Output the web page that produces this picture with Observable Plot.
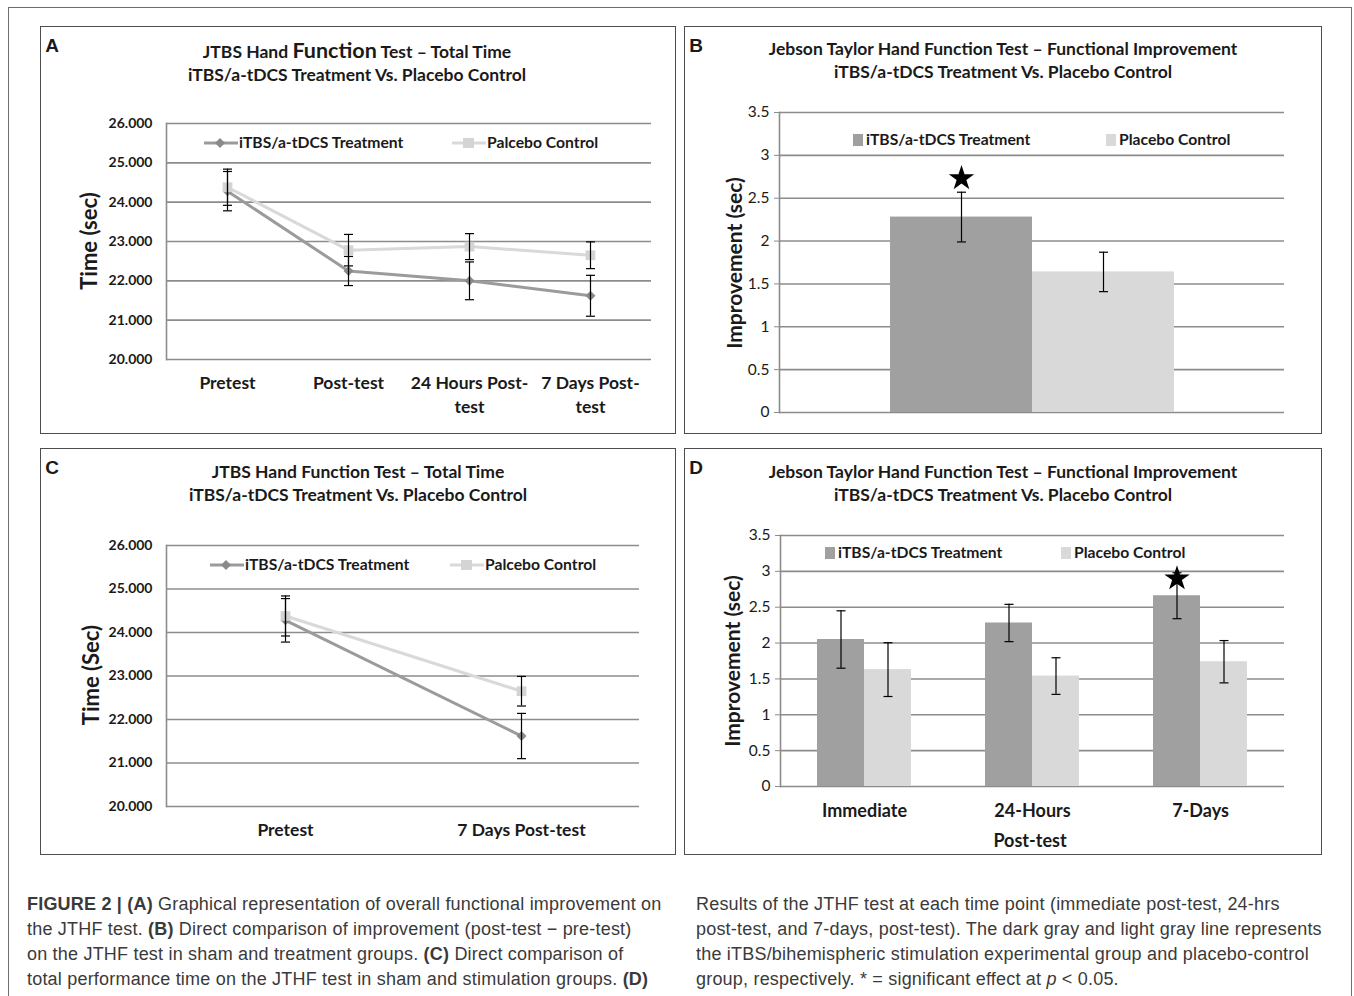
<!DOCTYPE html>
<html><head><meta charset="utf-8">
<script src="https://cdn.jsdelivr.net/npm/d3@7"></script>
<script src="https://cdn.jsdelivr.net/npm/@observablehq/plot@0.6"></script>
<style>
html,body{margin:0;padding:0;background:#fff}
body{width:1354px;height:996px;position:relative;overflow:hidden;font-family:Lato,"Open Sans",sans-serif;color:#1a1a1a}
.outer{position:absolute;left:8px;top:7px;width:1344px;height:1010px;border:1px solid #6e6e6e;box-sizing:border-box}
.panel{position:absolute}
.panel .border{position:absolute;left:0;top:0;right:0;bottom:0;border:1.5px solid #4d4d4d;pointer-events:none}
.panel svg.plot{position:absolute;left:0;top:0}
.t{position:absolute;white-space:nowrap;line-height:1}
.cap{position:absolute;font-family:"Liberation Sans",Arial,sans-serif;font-size:18px;letter-spacing:0.2px;line-height:25px;color:#3a3a3a;white-space:nowrap}
</style>
</head><body>
<div class="outer"></div>
<script>
// ---------------- data ----------------
const stages = ["Pretest", "Post-test", "24 Hours Post-test", "7 Days Post-test"];
const stageLabels = ["Pretest", "Post-test", "24 Hours Post-\ntest", "7 Days Post-\ntest"];
const treatTime = [24.28, 22.25, 22.00, 21.62];
const treatTimeErr = [0.50, 0.37, 0.48, 0.52];
const placeboTime = [24.38, 22.78, 22.87, 22.65];
const placeboTimeErr = [0.46, 0.40, 0.33, 0.34];
const timeTicks = [20, 21, 22, 23, 24, 25, 26];

const stagesC = ["Pretest", "7 Days Post-test"];

const groups = ["iTBS/a-tDCS Treatment", "Placebo Control"];
const overallImp = [2.28, 1.64];
const overallImpErr = [0.29, 0.23];
const starOverall = 2.73;

const timepoints = ["Immediate", "24-Hours", "7-Days"];
const treatImp = [2.05, 2.28, 2.66];
const treatImpErr = [0.40, 0.26, 0.32];
const placeboImp = [1.63, 1.54, 1.74];
const placeboImpErr = [0.375, 0.255, 0.295];
const starTimepoint = "7-Days";
const starTimepointValue = 2.90;
const impTicks = [0, 0.5, 1, 1.5, 2, 2.5, 3, 3.5];

// ---------------- styles ----------------
const DARK = "#a0a0a0", LIGHT = "#d9d9d9";
const LINE_DARK = "#9b9b9b", MARK_DARK = "#8a8a8a", MARK_LIGHT = "#d4d4d4";
const GRID = "#8c8c8c";
const FONT = "Lato, 'Open Sans', sans-serif";
const TITLE = 17.5, LEG = 15.7;

const cap = {draw(ctx, size) { const w = Math.sqrt(size / Math.PI); ctx.moveTo(-w, 0); ctx.lineTo(w, 0); }};

// ---------------- helpers ----------------
function panel(left, top, w, h) {
  const d = document.createElement("div");
  d.className = "panel";
  d.style.cssText = `left:${left}px;top:${top}px;width:${w}px;height:${h}px`;
  document.body.append(d);
  return d;
}
function finish(p) { const b = document.createElement("div"); b.className = "border"; p.append(b); }
function text(parent, html, x, y, o = {}) {
  const d = document.createElement("div");
  d.className = "t";
  d.innerHTML = html;
  const size = o.size || 16, weight = o.weight ?? 700, anchor = o.anchor || "middle";
  const tx = anchor === "start" ? "0" : anchor === "end" ? "-100%" : "-50%";
  d.style.cssText = `left:${x}px;top:${y}px;font-size:${size}px;font-weight:${weight};` +
    (o.family ? `font-family:${o.family};` : "") +
    `transform:translate(${tx},-50%)${o.rotate ? ` rotate(${o.rotate}deg)` : ""};`;
  parent.append(d);
  return d;
}
function lineLegend(parent, x, y, color, markColor, shape, label) {
  const s = document.createElement("div");
  s.className = "t";
  s.style.cssText = `left:${x}px;top:${y - 8}px;`;
  const m = shape === "diamond"
    ? `<path d="M16,3 L21,8 L16,13 L11,8 Z" fill="${markColor}"/>`
    : `<rect x="11" y="3" width="11" height="10" fill="${markColor}"/>`;
  s.innerHTML = `<svg width="34" height="16"><line x1="0" x2="34" y1="8" y2="8" stroke="${color}" stroke-width="3"/>${m}</svg>`;
  parent.append(s);
  text(parent, label, x + 35, y, {size: LEG, anchor: "start"});
}
function boxLegend(parent, x, y, color, label) {
  const s = document.createElement("div");
  s.className = "t";
  s.style.cssText = `left:${x}px;top:${y - 6}px;width:10px;height:12px;background:${color}`;
  parent.append(s);
  text(parent, label, x + 13, y, {size: LEG, anchor: "start"});
}
function errMarks(rows, xk, extra = {}) {
  return [
    Plot.ruleX(rows, {x: xk, y1: d => d.v - d.e, y2: d => d.v + d.e, stroke: "#000", strokeWidth: 1.2, ...extra}),
    Plot.dot(rows, {x: xk, y: d => d.v - d.e, symbol: cap, r: 4.5, fill: "none", stroke: "#000", strokeWidth: 1.2, ...extra}),
    Plot.dot(rows, {x: xk, y: d => d.v + d.e, symbol: cap, r: 4.5, fill: "none", stroke: "#000", strokeWidth: 1.2, ...extra})
  ];
}
function timeChart(domain, labels, w, h, m) {
  const rowsT = domain.map(s => { const i = stages.indexOf(s); return {stage: s, v: treatTime[i], e: treatTimeErr[i]}; });
  const rowsP = domain.map(s => { const i = stages.indexOf(s); return {stage: s, v: placeboTime[i], e: placeboTimeErr[i]}; });
  const lab = new Map(domain.map(s => [s, labels[stages.indexOf(s)]]));
  const svg = Plot.plot({
    width: w, height: h, ...m,
    style: {fontFamily: FONT, background: "transparent", color: "#1a1a1a", overflow: "visible"},
    x: {type: "point", domain, padding: 0.5},
    y: {domain: [20, 26]},
    marks: [
      Plot.gridY(timeTicks, {stroke: GRID, strokeOpacity: 1, strokeWidth: 1.6}),
      Plot.frame({anchor: "left", stroke: GRID, strokeWidth: 1.6}),
      Plot.axisY({ticks: timeTicks, tickSize: 0, tickPadding: 14, tickFormat: d3.format(".3f"), fontSize: 14, fontWeight: "bold", label: null}),
      Plot.axisX({tickSize: 0, tickPadding: 12, tickFormat: d => lab.get(d), fontSize: 17.5, fontWeight: "bold", lineHeight: 1.4, label: null}),
      Plot.line(rowsT, {x: "stage", y: "v", stroke: LINE_DARK, strokeWidth: 3}),
      Plot.dot(rowsT, {x: "stage", y: "v", symbol: "diamond2", fill: MARK_DARK, r: 4.5}),
      Plot.line(rowsP, {x: "stage", y: "v", stroke: LIGHT, strokeWidth: 3}),
      Plot.dot(rowsP, {x: "stage", y: "v", symbol: "square", fill: MARK_LIGHT, r: 5.5}),
      ...errMarks(rowsT, "stage"),
      ...errMarks(rowsP, "stage")
    ]
  });
  svg.classList.add("plot");
  return svg;
}

// ---------------- Panel A ----------------
{
  const p = panel(40, 26, 636, 408);
  p.append(timeChart(stages, stageLabels, 636, 408, {marginLeft: 126, marginRight: 25, marginTop: 97, marginBottom: 75}));
  text(p, "A", 12, 19, {size: 19, family: "'Liberation Sans',Arial,sans-serif"});
  text(p, `JTBS Hand <span style="font-size:21.5px">Function</span> Test – Total Time`, 317, 25, {size: TITLE});
  text(p, "iTBS/a-tDCS Treatment Vs. Placebo Control", 317, 49, {size: TITLE});
  text(p, "Time (sec)", 49, 215, {size: 22, rotate: -90});
  lineLegend(p, 164, 117, LINE_DARK, MARK_DARK, "diamond", "iTBS/a-tDCS Treatment");
  lineLegend(p, 412, 117, LIGHT, MARK_LIGHT, "square", "Palcebo Control");
  finish(p);
}
// ---------------- Panel C ----------------
{
  const p = panel(40, 448, 636, 407);
  p.append(timeChart(stagesC, stages, 636, 407, {marginLeft: 126, marginRight: 37, marginTop: 97, marginBottom: 49}));
  text(p, "C", 12, 19, {size: 19, family: "'Liberation Sans',Arial,sans-serif"});
  text(p, "JTBS Hand Function Test – Total Time", 318, 24, {size: TITLE});
  text(p, "iTBS/a-tDCS Treatment Vs. Placebo Control", 318, 47, {size: TITLE});
  text(p, "Time (Sec)", 51, 227, {size: 22, rotate: -90});
  lineLegend(p, 170, 117, LINE_DARK, MARK_DARK, "diamond", "iTBS/a-tDCS Treatment");
  lineLegend(p, 410, 117, LIGHT, MARK_LIGHT, "square", "Palcebo Control");
  finish(p);
}
// ---------------- Panel B ----------------
{
  const p = panel(684, 26, 638, 408);
  const rows = groups.map((g, i) => ({group: g, v: overallImp[i], e: overallImpErr[i]}));
  const svg = Plot.plot({
    width: 638, height: 408, marginLeft: 95, marginRight: 38, marginTop: 86, marginBottom: 22,
    style: {fontFamily: FONT, background: "transparent", color: "#1a1a1a", overflow: "visible"},
    x: {domain: groups, paddingInner: 0, paddingOuter: 0.77, axis: null},
    y: {domain: [0, 3.5]},
    color: {domain: groups, range: [DARK, LIGHT]},
    marks: [
      Plot.gridY(impTicks, {stroke: GRID, strokeOpacity: 1, strokeWidth: 1.6}),
      Plot.frame({anchor: "left", stroke: GRID, strokeWidth: 1.6}),
      Plot.axisY({ticks: impTicks, tickSize: 5, tickPadding: 5, stroke: GRID, tickFormat: d => String(d), fontSize: 15.5, label: null}),
      Plot.barY(rows, {x: "group", y: "v", fill: "group"}),
      ...errMarks(rows, "group"),
      Plot.dot([{group: groups[0], v: starOverall}], {x: "group", y: "v", symbol: "star", fill: "#000", r: 8})
    ]
  });
  svg.classList.add("plot");
  p.append(svg);
  text(p, "B", 12, 19, {size: 19, family: "'Liberation Sans',Arial,sans-serif"});
  text(p, "Jebson Taylor Hand Function Test – Functional Improvement", 319, 23, {size: TITLE});
  text(p, "iTBS/a-tDCS Treatment Vs. Placebo Control", 319, 46, {size: TITLE});
  text(p, "Improvement (sec)", 49, 237, {size: 21, rotate: -90});
  boxLegend(p, 169, 114, DARK, "iTBS/a-tDCS Treatment");
  boxLegend(p, 422, 114, LIGHT, "Placebo Control");
  finish(p);
}
// ---------------- Panel D ----------------
{
  const p = panel(684, 448, 638, 407);
  const rows = [];
  timepoints.forEach((t, i) => {
    rows.push({time: t, group: groups[0], v: treatImp[i], e: treatImpErr[i]});
    rows.push({time: t, group: groups[1], v: placeboImp[i], e: placeboImpErr[i]});
  });
  const svg = Plot.plot({
    width: 638, height: 407, marginLeft: 95, marginRight: 38, marginTop: 87, marginBottom: 69,
    style: {fontFamily: FONT, background: "transparent", color: "#1a1a1a", overflow: "visible"},
    fx: {domain: timepoints, paddingInner: 0, paddingOuter: 0},
    x: {domain: groups, paddingInner: 0, paddingOuter: 0.77, axis: null},
    y: {domain: [0, 3.5]},
    color: {domain: groups, range: [DARK, LIGHT]},
    marks: [
      Plot.gridY(impTicks, {stroke: GRID, strokeOpacity: 1, strokeWidth: 1.6}),
      Plot.frame({anchor: "left", facetAnchor: "left", stroke: GRID, strokeWidth: 1.6}),
      Plot.axisY({ticks: impTicks, tickSize: 5, tickPadding: 5, stroke: GRID, tickFormat: d => String(d), fontSize: 15.5, label: null}),
      Plot.axisFx({anchor: "bottom", tickSize: 0, tickPadding: 18, fontSize: 18, fontWeight: "bold", label: null}),
      Plot.barY(rows, {fx: "time", x: "group", y: "v", fill: "group"}),
      ...errMarks(rows, "group", {fx: "time"}),
      Plot.dot([{time: starTimepoint, group: groups[0], v: starTimepointValue}], {fx: "time", x: "group", y: "v", symbol: "star", fill: "#000", r: 8})
    ]
  });
  svg.classList.add("plot");
  p.append(svg);
  text(p, "D", 12, 19, {size: 19, family: "'Liberation Sans',Arial,sans-serif"});
  text(p, "Jebson Taylor Hand Function Test – Functional Improvement", 319, 24, {size: TITLE});
  text(p, "iTBS/a-tDCS Treatment Vs. Placebo Control", 319, 47, {size: TITLE});
  text(p, "Improvement (sec)", 47, 213, {size: 21, rotate: -90});
  text(p, "Post-test", 346, 392, {size: 18});
  boxLegend(p, 141, 105, DARK, "iTBS/a-tDCS Treatment");
  boxLegend(p, 377, 105, LIGHT, "Placebo Control");
  finish(p);
}
// ---------------- Caption ----------------
{
  const left = document.createElement("div");
  left.className = "cap";
  left.style.cssText = "left:27px;top:892px";
  left.innerHTML = `<b>FIGURE 2 | (A)</b> Graphical representation of overall functional improvement on<br>` +
    `the JTHF test. <b>(B)</b> Direct comparison of improvement (post-test − pre-test)<br>` +
    `on the JTHF test in sham and treatment groups. <b>(C)</b> Direct comparison of<br>` +
    `total performance time on the JTHF test in sham and stimulation groups. <b>(D)</b>`;
  document.body.append(left);
  const right = document.createElement("div");
  right.className = "cap";
  right.style.cssText = "left:696px;top:892px";
  right.innerHTML = `Results of the JTHF test at each time point (immediate post-test, 24-hrs<br>` +
    `post-test, and 7-days, post-test). The dark gray and light gray line represents<br>` +
    `the iTBS/bihemispheric stimulation experimental group and placebo-control<br>` +
    `group, respectively. * = significant effect at <i>p</i> &lt; 0.05.`;
  document.body.append(right);
}
</script>
</body></html>
